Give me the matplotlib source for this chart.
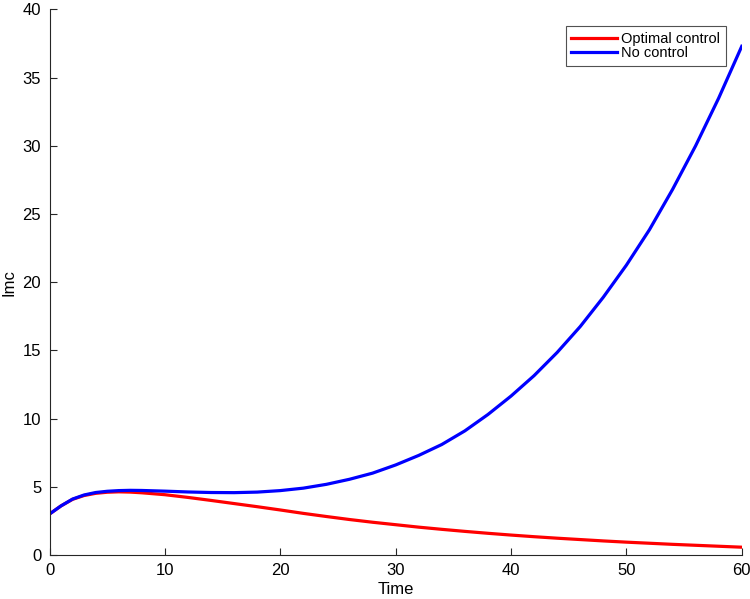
import matplotlib
matplotlib.use("Agg")
import matplotlib.pyplot as plt

plt.rcParams["font.family"] = ["Liberation Sans", "DejaVu Sans"]

# values
time_pts = [0, 1, 2, 3, 4, 5, 6, 7, 8, 10, 12, 14, 16, 18, 20, 22, 24, 26, 28, 30,
            32, 34, 36, 38, 40, 42, 44, 46, 48, 50, 52, 54, 56, 58, 60]
optimal = [3.0, 3.6, 4.08, 4.36, 4.52, 4.6, 4.63, 4.61, 4.56, 4.42, 4.22, 4.0, 3.77,
           3.54, 3.3, 3.05, 2.82, 2.6, 2.4, 2.22, 2.04, 1.88, 1.73, 1.59, 1.46,
           1.34, 1.23, 1.13, 1.03, 0.94, 0.86, 0.78, 0.71, 0.64, 0.57]
no_control = [3.0, 3.6, 4.1, 4.4, 4.58, 4.67, 4.72, 4.74, 4.73, 4.68, 4.62, 4.58,
              4.57, 4.61, 4.72, 4.9, 5.18, 5.55, 6.0, 6.6, 7.3, 8.1, 9.1, 10.3, 11.65,
              13.15, 14.85, 16.75, 18.9, 21.25, 23.85, 26.8, 30.0, 33.5, 37.3]

fig = plt.figure(figsize=(7.5, 5.99), dpi=100)
ax = fig.add_axes([0.066, 0.0735, 0.923, 0.9107])

ax.plot(time_pts, optimal, color="#ff0000", lw=2.3, label="Optimal control")
ax.plot(time_pts, no_control, color="#0000ff", lw=2.3, label="No control")

ax.set_xlim(0, 60)
ax.set_ylim(0, 40)
ax.set_xticks(range(0, 61, 10))
ax.set_yticks(range(0, 41, 5))
ax.set_xlabel("Time", fontsize=12, labelpad=3)
ax.set_ylabel("Imc", fontsize=12, labelpad=4)

for s in ["top", "right"]:
    ax.spines[s].set_visible(False)
for s in ["left", "bottom"]:
    ax.spines[s].set_color("#262626")
    ax.spines[s].set_linewidth(0.8)
ax.tick_params(direction="in", length=5, width=0.8, color="#262626",
               labelsize=12, pad=6)

leg = ax.legend(loc="upper right", bbox_to_anchor=(0.977, 0.970), borderaxespad=0,
                fontsize=10.5, frameon=True, fancybox=False, handlelength=3.1,
                handletextpad=0.3, borderpad=0.4, labelspacing=0.05)
leg.get_frame().set_edgecolor("#262626")
leg.get_frame().set_linewidth(0.8)

fig.savefig("out.png", dpi=100)
